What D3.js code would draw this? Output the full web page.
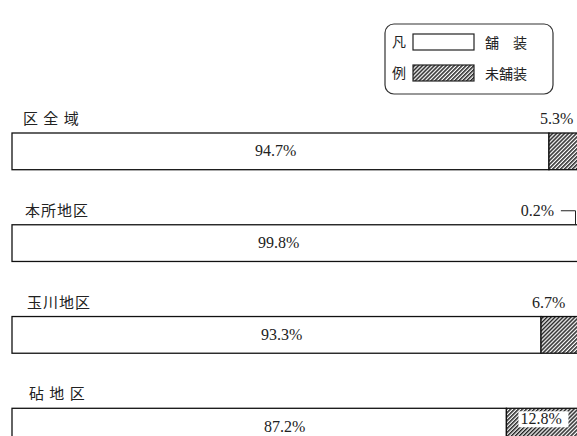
<!DOCTYPE html>
<html><head><meta charset="utf-8">
<script src="https://cdn.jsdelivr.net/npm/d3@7"></script>
<style>body{margin:0;background:#fff}svg{display:block}</style>
</head><body>
<script>
const categories = ["区 全 域", "本所地区", "玉川地区", "砧 地 区"];
const paved = [94.7, 99.8, 93.3, 87.2];
const unpaved = [5.3, 0.2, 6.7, 12.8];
const legendLabels = ["舗　装", "未舗装"];
const legendHeads = ["凡", "例"];

const W = 577, H = 436;
const svg = d3.select("body").append("svg").attr("width", W).attr("height", H);
const defs = svg.append("defs");
const pat = defs.append("pattern").attr("id","hatch").attr("patternUnits","userSpaceOnUse")
  .attr("width",2.8).attr("height",2.8).attr("patternTransform","rotate(45)");
pat.append("rect").attr("width",2.8).attr("height",2.8).attr("fill","#fff");
pat.append("rect").attr("width",1.5).attr("height",2.8).attr("fill","#222");

const cjk = "'Noto Sans CJK JP', sans-serif";
const num = "'Liberation Serif', 'DejaVu Serif', serif";

const x = d3.scaleLinear().domain([0, 100]).range([12, 579]);
const y = d3.scaleBand().domain(categories).range([133, 445]).paddingInner(0.6).paddingOuter(0);

const g = svg.append("g");
categories.forEach((c, i) => {
  const y0 = y(c), bh = y.bandwidth();
  const row = g.append("g");
  row.append("rect").attr("x", x(0)).attr("y", y0).attr("width", x(paved[i]) - x(0)).attr("height", bh)
    .attr("fill", "#fff").attr("stroke", "#111").attr("stroke-width", 1.3);
  row.append("rect").attr("x", x(paved[i])).attr("y", y0).attr("width", x(100) - x(paved[i])).attr("height", bh)
    .attr("fill", "url(#hatch)").attr("stroke", "#111").attr("stroke-width", 1.3);
  // category label
  row.append("text").attr("x", x(0) + 11 + i * 2).attr("y", y0 - 9)
    .attr("font-family", cjk).attr("font-size", 15).attr("letter-spacing", 1).attr("fill", "#222").text(c);
  // paved value
  row.append("text").attr("x", x(46.5) + i * 3).attr("y", y0 + bh / 2 + 5)
    .attr("text-anchor", "middle").attr("font-family", num).attr("font-size", 16).attr("fill", "#222")
    .text(paved[i].toFixed(1) + "%");
  // unpaved value
  const ulab = unpaved[i].toFixed(1) + "%";
  if (unpaved[i] >= 10) {
    const tx = x(paved[i]) + 14, ty = y0 + 16;
    row.append("rect").attr("x", tx - 2).attr("y", ty - 13).attr("width", 50).attr("height", 16).attr("fill", "#fff");
    row.append("text").attr("x", tx).attr("y", ty).attr("font-family", num).attr("font-size", 16)
      .attr("fill", "#222").text(ulab);
  } else if (unpaved[i] < 1) {
    const tx = x(paved[i]) - 57, ty = y0 - 9;
    const vx = Math.min(x(paved[i]) - 1, W - 1.5);
    row.append("text").attr("x", tx).attr("y", ty).attr("font-family", num).attr("font-size", 16)
      .attr("fill", "#222").text(ulab);
    row.append("path").attr("d", `M${tx + 40},${ty - 5}H${vx}V${y0}`)
      .attr("fill", "none").attr("stroke", "#222").attr("stroke-width", 1);
  } else {
    row.append("text").attr("x", x(paved[i]) - 9).attr("y", y0 - 9).attr("font-family", num)
      .attr("font-size", 16).attr("fill", "#222").text(ulab);
  }
});

// legend
const lg = svg.append("g");
lg.append("rect").attr("x", 385).attr("y", 24).attr("width", 168).attr("height", 70).attr("rx", 9)
  .attr("fill", "none").attr("stroke", "#333").attr("stroke-width", 1.2);
legendHeads.forEach((t, i) => {
  const yy = 34 + i * 31;
  lg.append("text").attr("x", 392).attr("y", yy + 13).attr("font-family", cjk).attr("font-size", 14)
    .attr("fill", "#222").text(t);
  lg.append("rect").attr("x", 413).attr("y", yy).attr("width", 61).attr("height", 16)
    .attr("fill", i === 0 ? "#fff" : "url(#hatch)").attr("stroke", "#222").attr("stroke-width", 1.2);
  lg.append("text").attr("x", 485).attr("y", yy + 14).attr("font-family", cjk).attr("font-size", 14)
    .attr("fill", "#222").text(legendLabels[i]);
});
</script>
</body></html>
